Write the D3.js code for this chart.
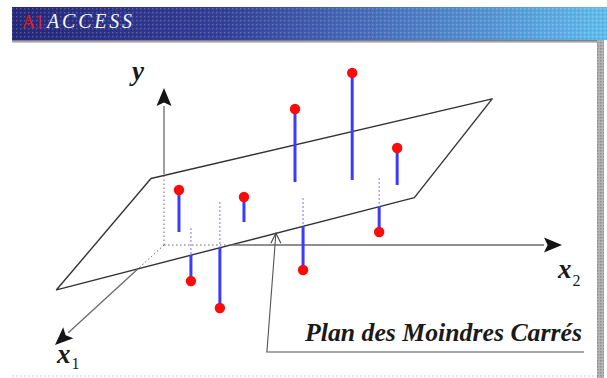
<!DOCTYPE html>
<html>
<head>
<meta charset="utf-8">
<script src="https://cdn.jsdelivr.net/npm/d3@7"></script>
<style>
  html, body { margin: 0; padding: 0; background: #fff; }
  svg { display: block; }
</style>
</head>
<body>
<svg id="chart" width="607" height="378"></svg>
<script>
// Observations (x1, x2, y) around a least-squares plane
const obsX1 = [5.71, 6.21, 3.61, 4.68, 6.14, 5.60, 3.82, 5.28, 5.09];
const obsX2 = [1.94, 3.71, 4.28, 6.01, 7.54, 2.21, 2.45, 4.94, 6.80];
const obsY  = [7.14, 7.01, 10.96, 13.94, 10.09, 1.27, -1.58, 1.77, 4.07];

// Plane y = b0 + b1*x1 + b2*x2
const planeCoef = [4.5, -0.21, 0.6];
// Plane patch corners (x1, x2): back-left, back-right, front-right, front-left
const planeX1 = [0.1, 0.2, 7.7, 8.4];
const planeX2 = [-0.3, 8.3, 8.4, -0.4];

// Axis extents
const axisNames = ["x1", "x2", "y"];
const axisMax = [10, 10, 10];

// Texts
const bannerBrand = ["A1", "ACCESS"];
const planeLabel = "Plan des Moindres Carrés";

const svg = d3.select("#chart");
const defs = svg.append("defs");

// ---------- banner ----------
const grad = defs.append("linearGradient").attr("id", "bannerGrad");
grad.append("stop").attr("offset", "0%").attr("stop-color", "#262879");
grad.append("stop").attr("offset", "35%").attr("stop-color", "#34409a");
grad.append("stop").attr("offset", "62%").attr("stop-color", "#4a72bf");
grad.append("stop").attr("offset", "100%").attr("stop-color", "#62bdee");

const dots = defs.append("pattern").attr("id", "dither")
  .attr("width", 4).attr("height", 4).attr("patternUnits", "userSpaceOnUse");
dots.append("rect").attr("x", 0).attr("y", 0).attr("width", 1.4).attr("height", 1.4)
  .attr("fill", "#ffffff").attr("opacity", 0.22);
dots.append("rect").attr("x", 2).attr("y", 2).attr("width", 1.4).attr("height", 1.4)
  .attr("fill", "#000033").attr("opacity", 0.12);

const shade = defs.append("linearGradient").attr("id", "shadeGrad")
  .attr("x1", 0).attr("y1", 0).attr("x2", 0).attr("y2", 1);
shade.append("stop").attr("offset", "0%").attr("stop-color", "#6f6f78");
shade.append("stop").attr("offset", "100%").attr("stop-color", "#d8d8dc");

const barPat = defs.append("pattern").attr("id", "barPat")
  .attr("width", 3).attr("height", 3).attr("patternUnits", "userSpaceOnUse");
barPat.append("rect").attr("width", 3).attr("height", 3).attr("fill", "#b4b4b4");
barPat.append("rect").attr("width", 1.5).attr("height", 1.5).attr("fill", "#8e8e8e");

svg.append("rect").attr("x", 12).attr("y", 7).attr("width", 595).attr("height", 33)
  .attr("fill", "url(#bannerGrad)");
svg.append("rect").attr("x", 12).attr("y", 7).attr("width", 595).attr("height", 33)
  .attr("fill", "url(#dither)");
svg.append("rect").attr("x", 12).attr("y", 40).attr("width", 586).attr("height", 3)
  .attr("fill", "url(#shadeGrad)");
svg.append("rect").attr("x", 597).attr("y", 40).attr("width", 7).attr("height", 338)
  .attr("fill", "url(#barPat)");
svg.append("line").attr("x1", 12).attr("x2", 597).attr("y1", 376).attr("y2", 376)
  .attr("stroke", "#cfcfcf").attr("stroke-dasharray", "2,2");

const serif = "'Liberation Serif', 'DejaVu Serif', serif";
// brand: red "A1" followed by italic white "ACCESS"
svg.append("text").attr("x", 22).attr("y", 28)
  .attr("font-family", serif).attr("font-size", 18).attr("fill", "#e3161b")
  .text(bannerBrand[0]);
svg.append("text").attr("x", 47).attr("y", 28)
  .attr("font-family", serif).attr("font-size", 20).attr("fill", "#f4f4ff")
  .attr("font-style", "italic").attr("letter-spacing", 2.8)
  .text(bannerBrand[1]);

// ---------- oblique projection ----------
const origin = [164, 245];
const sX2 = d3.scaleLinear().domain([0, 10]).range([0, 398]);
const sX1x = d3.scaleLinear().domain([0, 10]).range([0, -109]);
const sX1y = d3.scaleLinear().domain([0, 10]).range([0, 100]);
const sY = d3.scaleLinear().domain([0, 10]).range([0, -157]);

const project = (x1, x2, y) => [
  origin[0] + sX2(x2) + sX1x(x1),
  origin[1] + sX1y(x1) + sY(y)
];
const fit = (x1, x2) => planeCoef[0] + planeCoef[1] * x1 + planeCoef[2] * x2;

const corners = planeX1.map((a, i) => project(a, planeX2[i], fit(a, planeX2[i])));
const frontA = corners[3], frontB = corners[2];

// intersection parameter t on segment p->q with the front edge line
function crossFront(p, q) {
  const r = [q[0] - p[0], q[1] - p[1]];
  const s = [frontB[0] - frontA[0], frontB[1] - frontA[1]];
  const den = r[0] * s[1] - r[1] * s[0];
  if (Math.abs(den) < 1e-9) return null;
  return ((frontA[0] - p[0]) * s[1] - (frontA[1] - p[1]) * s[0]) / den;
}
const lerp = (p, q, t) => [p[0] + (q[0] - p[0]) * t, p[1] + (q[1] - p[1]) * t];

const line = d3.line();

// ---------- plane outline ----------
svg.append("path")
  .attr("d", line(corners) + "Z")
  .attr("fill", "none").attr("stroke", "#333").attr("stroke-width", 1.4)
  .attr("stroke-linejoin", "round");

// ---------- axes ----------
const hiddenAxis = { stroke: "#6a6a6a", width: 1, dash: "1.5,2.5" };
const visibleAxis = { stroke: "#6a6a6a", width: 1.3 };

function arrowHead(tip, from) {
  const ang = Math.atan2(tip[1] - from[1], tip[0] - from[0]);
  const L = 18, hw = 7.5;
  const base = [tip[0] - L * Math.cos(ang), tip[1] - L * Math.sin(ang)];
  const nx = -Math.sin(ang), ny = Math.cos(ang);
  svg.append("path")
    .attr("d", line([tip, [base[0] + nx * hw, base[1] + ny * hw],
                     [base[0] + L * 0.2 * Math.cos(ang), base[1] + L * 0.2 * Math.sin(ang)],
                     [base[0] - nx * hw, base[1] - ny * hw]]) + "Z")
    .attr("fill", "#151515");
  return base;
}

function drawAxis(end, splitPoint) {
  const base = arrowHead(end, origin);
  svg.append("line")
    .attr("x1", origin[0]).attr("y1", origin[1])
    .attr("x2", splitPoint[0]).attr("y2", splitPoint[1])
    .attr("stroke", hiddenAxis.stroke).attr("stroke-width", hiddenAxis.width)
    .attr("stroke-dasharray", hiddenAxis.dash);
  svg.append("line")
    .attr("x1", splitPoint[0]).attr("y1", splitPoint[1])
    .attr("x2", base[0]).attr("y2", base[1])
    .attr("stroke", visibleAxis.stroke).attr("stroke-width", visibleAxis.width);
}

const endX1 = project(axisMax[0], 0, 0);
const endX2 = project(0, axisMax[1], 0);
const endY = project(0, 0, axisMax[2]);

drawAxis(endX1, lerp(origin, endX1, crossFront(origin, endX1)));
drawAxis(endX2, lerp(origin, endX2, crossFront(origin, endX2)));
drawAxis(endY, project(0, 0, fit(0, 0)));

// axis labels
function axisLabel(x, y, main, sub, subDx, subDy) {
  const t = svg.append("text").attr("x", x).attr("y", y)
    .attr("font-family", serif).attr("font-weight", "bold")
    .attr("font-style", "italic").attr("font-size", 27).attr("fill", "#1a1a1a");
  t.append("tspan").text(main);
  if (sub) {
    t.append("tspan").attr("dx", subDx).attr("dy", subDy)
      .attr("font-size", 16).attr("font-style", "normal").attr("font-weight", "normal")
      .text(sub);
  }
}
axisLabel(endX1[0] + 2, endX1[1] + 18, "x", "1", 1, 6);
axisLabel(endX2[0] - 4, endX2[1] + 33, "x", "2", 1, 8);
axisLabel(endY[0] - 32, endY[1] - 8, "y", null);

// ---------- residuals ----------
const resid = obsY.map((y, i) => {
  const x1 = obsX1[i], x2 = obsX2[i];
  return { dot: project(x1, x2, y), foot: project(x1, x2, fit(x1, x2)), above: y > fit(x1, x2) };
});

const gRes = svg.append("g");
resid.forEach(r => {
  const sx = r.dot[0];
  if (r.above) {
    gRes.append("line")
      .attr("x1", sx).attr("x2", sx).attr("y1", r.foot[1]).attr("y2", r.dot[1])
      .attr("stroke", "#3b3bff").attr("stroke-width", 3);
  } else {
    const t = crossFront(r.foot, r.dot);
    const edge = (t !== null && t > 0 && t < 1) ? lerp(r.foot, r.dot, t) : r.foot;
    gRes.append("line")
      .attr("x1", sx).attr("x2", sx).attr("y1", r.foot[1]).attr("y2", edge[1])
      .attr("stroke", "#8f8cff").attr("stroke-width", 1.2)
      .attr("stroke-dasharray", "2,2");
    gRes.append("line")
      .attr("x1", sx).attr("x2", sx).attr("y1", edge[1]).attr("y2", r.dot[1])
      .attr("stroke", "#3b3bff").attr("stroke-width", 3);
  }
});

gRes.selectAll("circle").data(resid).join("circle")
  .attr("cx", d => d.dot[0]).attr("cy", d => d.dot[1])
  .attr("r", 5.2).attr("fill", "#ff0a0a");

// ---------- callout ----------
const anchor = lerp(frontA, frontB, 0.613);
const elbow = [anchor[0] - 9, 352];
const underlineEnd = 584;
svg.append("path")
  .attr("d", line([anchor, elbow, [underlineEnd, elbow[1]]]))
  .attr("fill", "none").attr("stroke", "#555").attr("stroke-width", 1.1);
svg.append("path")
  .attr("d", line([[anchor[0] - 5, anchor[1] + 10], anchor, [anchor[0] + 5, anchor[1] + 10]]))
  .attr("fill", "none").attr("stroke", "#444").attr("stroke-width", 1.1);

svg.append("text")
  .attr("x", 305).attr("y", 341)
  .attr("font-family", serif).attr("font-weight", "bold").attr("font-style", "italic")
  .attr("font-size", 26).attr("fill", "#1a1a1a")
  .attr("textLength", 277).attr("lengthAdjust", "spacingAndGlyphs")
  .text(planeLabel);
</script>
</body>
</html>
